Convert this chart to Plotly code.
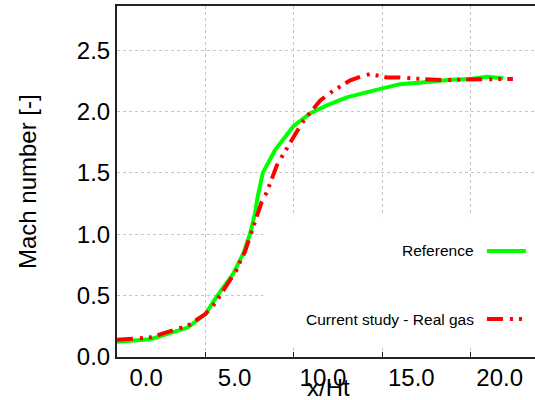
import plotly.graph_objects as go

# Reference data (green, solid)
ref_x = [-2.5, -0.6, 1.5, 2.5, 3.18, 4.08, 4.65, 5.02, 5.31, 5.45, 5.75, 6.44, 7.48,
         8.42, 9.37, 10.5, 12.0, 13.5, 15.4, 16.34, 17.48, 18.42, 19.36]
ref_m = [0.125, 0.145, 0.24, 0.35, 0.5, 0.68, 0.845, 1.0, 1.17, 1.3, 1.5, 1.686, 1.88,
         1.984, 2.05, 2.115, 2.17, 2.223, 2.245, 2.26, 2.266, 2.283, 2.272]

# Current study - real gas (red, dash-dot-dot)
cur_x = [-2.5, -0.6, 1.5, 2.5, 3.04, 3.42, 3.89, 4.27, 4.46, 4.74, 4.93, 5.12, 5.31,
         5.5, 5.69, 5.97, 6.16, 6.35, 6.54, 6.82, 7.38, 7.95, 8.42, 9.0, 9.74, 10.12,
         10.7, 11.3, 11.8, 12.76, 13.5, 14.65, 15.97, 16.9, 18.2, 19.9]
cur_m = [0.14, 0.16, 0.255, 0.35, 0.437, 0.52, 0.627, 0.71, 0.776, 0.857, 0.94, 1.02, 1.09,
         1.17, 1.265, 1.34, 1.41, 1.48, 1.56, 1.63, 1.767, 1.903, 1.99, 2.09, 2.17, 2.2,
         2.255, 2.285, 2.305, 2.278, 2.278, 2.266, 2.256, 2.26, 2.266, 2.266]

x_tick_vals = [0, 5, 10, 15, 20]
x_tick_text = ["0.0", "5.0", "10.0", "15.0", "20.0"]
x_grid_vals = [2.5, 7.5, 12.5, 17.5]
y_tick_vals = [0.0, 0.5, 1.0, 1.5, 2.0, 2.5]
y_tick_text = ["0.0", "0.5", "1.0", "1.5", "2.0", "2.5"]

x_title = "x/Ht"
y_title = "Mach number [-]"
names = ["Reference", "Current study - Real gas"]
colors = ["#00ff00", "#ff0000"]
dashes = ["solid", "16px,7px,3px,6px,3px,6px"]

FONT = "Liberation Sans, Arial, Helvetica, sans-serif"

fig = go.Figure()
fig.add_trace(go.Scatter(x=ref_x, y=ref_m, mode="lines", name=names[0],
                         line=dict(color=colors[0], width=4, dash=dashes[0])))
fig.add_trace(go.Scatter(x=cur_x, y=cur_m, mode="lines", name=names[1],
                         line=dict(color=colors[1], width=4, dash=dashes[1])))

# Key box (opaque, hides grid) and key entries: text left of sample
fig.add_shape(type="rect", xref="paper", yref="paper", x0=0.35, x1=1.0, y0=0.03, y1=0.4,
              fillcolor="white", line=dict(width=0), layer="above")
key_y = [0.302, 0.108]
for i in range(2):
    fig.add_annotation(xref="paper", yref="paper", x=0.859, y=key_y[i], text=names[i],
                       showarrow=False, xanchor="right", yanchor="middle",
                       font=dict(family=FONT, size=15.5, color="black"))
    fig.add_shape(type="line", xref="paper", yref="paper", x0=0.885, x1=0.978,
                  y0=key_y[i], y1=key_y[i], layer="above",
                  line=dict(color=colors[i], width=4, dash=dashes[i]))

# Axis titles placed as in the reference (x title sits close under the tick labels)
fig.add_annotation(xref="paper", yref="paper", x=0.505, y=-0.087, text=x_title,
                   showarrow=False, xanchor="center", yanchor="middle",
                   font=dict(family=FONT, size=24, color="black"))
fig.add_annotation(xref="paper", yref="paper", x=-0.214, y=0.5, text=y_title, textangle=-90,
                   showarrow=False, xanchor="center", yanchor="middle",
                   font=dict(family=FONT, size=24, color="black"))

grid = dict(showgrid=True, gridcolor="#c4c4c4", griddash="dot", gridwidth=1)

fig.update_layout(
    width=535, height=400,
    margin=dict(l=117, r=0, t=6, b=43),
    paper_bgcolor="white", plot_bgcolor="white",
    showlegend=False,
    font=dict(family=FONT, color="black"),
    xaxis=dict(range=[-2.5, 21.15], tickvals=x_tick_vals, ticktext=x_tick_text,
               automargin=False,
               showgrid=False, ticks="", ticklabelshift=-15, ticklabelstandoff=-2,
               tickfont=dict(size=24, family=FONT, color="black"),
               showline=True, linecolor="#222222", linewidth=2, mirror=True,
               zeroline=False,
               minor=dict(tickvals=x_grid_vals, ticks="inside", ticklen=5, tickcolor="#222222",
                          tickwidth=1, **grid)),
    yaxis=dict(range=[0, 2.86], tickvals=y_tick_vals, ticktext=y_tick_text,
               automargin=False,
               ticks="", zeroline=False, **grid,
               tickfont=dict(size=24, family=FONT, color="black"),
               showline=True, linecolor="#222222", linewidth=2),
)

fig.write_html("out.html", config={"displayModeBar": False},
               post_script="document.body.style.margin='0';document.body.style.overflow='hidden';")
